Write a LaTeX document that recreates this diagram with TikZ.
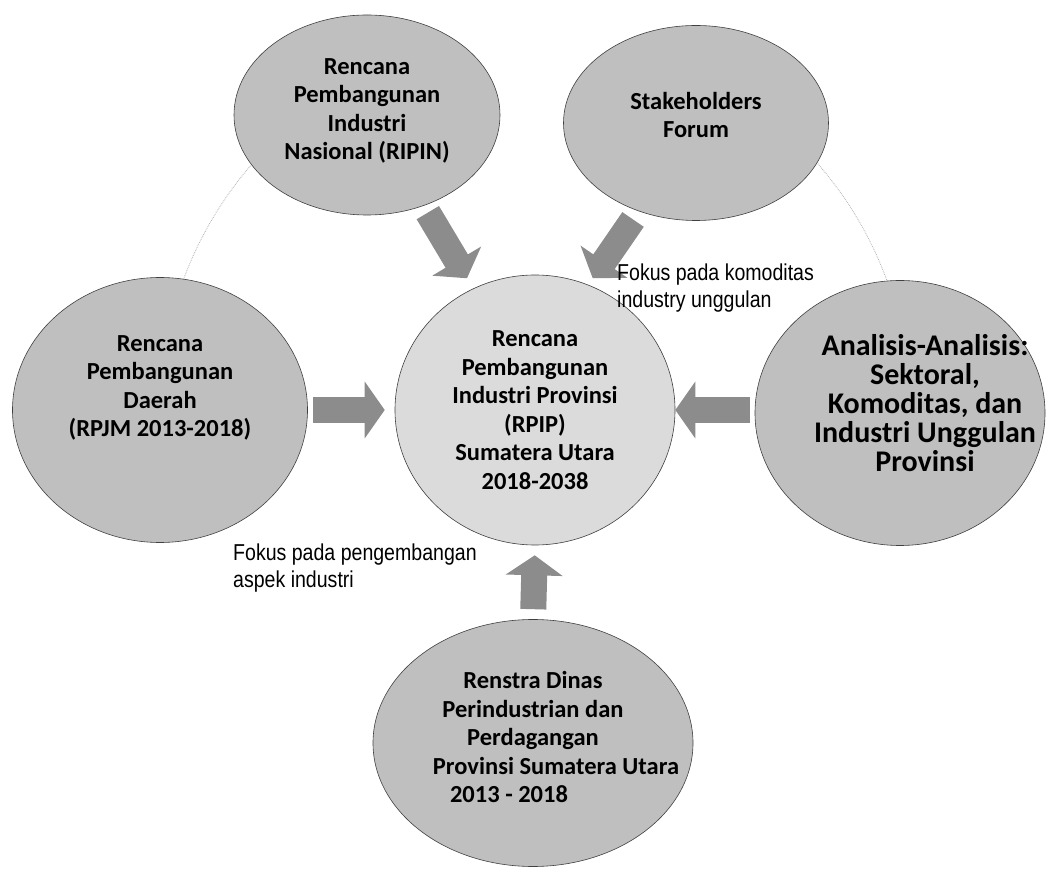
\documentclass[tikz,border=0pt]{standalone}
\usepackage{fontspec}
\setmainfont{Carlito}
\newfontfamily\notefont[FakeStretch=0.85]{Liberation Sans}
\usepackage{xcolor}
\usepackage{tikz}
\usetikzlibrary{positioning, shapes, arrows.meta, calc, backgrounds}

\begin{document}
\begin{tikzpicture}[
    x=1pt, y=1pt,
    every node/.style={font=\bfseries\fontsize{24.5}{28.5}\selectfont},
    source/.style={ellipse, draw=black!75, line width=0.6pt, fill=black!25, inner sep=0pt},
    hub/.style={source, fill=black!14},
    words/.style={align=center, inner sep=0pt},
    feed/.style={line width=26pt, draw=black!45, -{Triangle[width=56pt, length=20pt]}},
    note/.style={align=left, inner sep=0pt, font=\notefont\fontsize{23}{27}\selectfont},
    ring/.style={black!30, densely dotted, line width=0.8pt}
]
\useasboundingbox (0,0) rectangle (1047,868);

% Center: RPIP
\node[hub, minimum width=280pt, minimum height=270pt] (rpip) at (535,458) {};
\node[words] (rpip-text) at (rpip) {Rencana\\Pembangunan\\Industri Provinsi\\(RPIP)\\Sumatera Utara\\2018-2038};

% Sources around the center
\node[source, minimum width=266pt, minimum height=200pt] (ripin) at (367,753) {};
\node[words] (ripin-text) at ([yshift=4pt]ripin.center) {Rencana\\Pembangunan\\Industri\\Nasional (RIPIN)};

\node[source, minimum width=265pt, minimum height=195pt] (stake) at (696,745) {};
\node[words] (stake-text) at ([yshift=8pt]stake.center) {Stakeholders\\Forum};

\node[source, minimum width=295pt, minimum height=265pt] (daerah) at (160,458) {};
\node[words] (daerah-text) at ([yshift=22pt]daerah.center) {Rencana\\Pembangunan\\Daerah\\(RPJM 2013-2018)};

\node[source, minimum width=290pt, minimum height=265pt] (analisis) at (900,455) {};
\node[words, font=\bfseries\fontsize{30}{29}\selectfont] (analisis-text) at ([xshift=25pt, yshift=10pt]analisis.center)
    {Analisis-Analisis:\\Sektoral,\\Komoditas, dan\\Industri Unggulan\\Provinsi};

\node[source, minimum width=320pt, minimum height=247pt] (renstra) at (533,125) {};
\node[words] (renstra-text) at ([yshift=6pt]renstra.center)
    {Renstra Dinas\\Perindustrian dan\\Perdagangan\\\hspace*{46pt}Provinsi Sumatera Utara\\2013 - 2018\hspace*{48pt}};

% Faint ring behind
\begin{scope}[on background layer]
\draw[ring] ($(rpip.center)+(135:375pt)$) arc[start angle=135, end angle=160, radius=375pt];
\draw[ring] ($(rpip.center)+(17:375pt)$) arc[start angle=17, end angle=42, radius=375pt];
\end{scope}

% Block arrows into the center
\draw[feed, shorten <=8pt, shorten >=12pt] (ripin.302) -- (rpip.117);
\draw[feed, shorten <=10pt, shorten >=8pt] (stake.237) -- (rpip.67);
\draw[feed, shorten <=5pt, shorten >=10pt] (daerah) -- (rpip);
\draw[feed, shorten <=5pt, shorten >=0pt] (analisis.west |- rpip) -- (rpip);
\draw[feed, shorten <=10pt, shorten >=10pt] (renstra.north) -- (rpip.south);

% Notes
\node[note, anchor=north west] (note-komoditas) at (617,604) {Fokus pada komoditas\\industry unggulan};
\node[note, anchor=north west] (note-aspek) at (233,324) {Fokus pada pengembangan\\aspek industri};

\end{tikzpicture}
\end{document}
